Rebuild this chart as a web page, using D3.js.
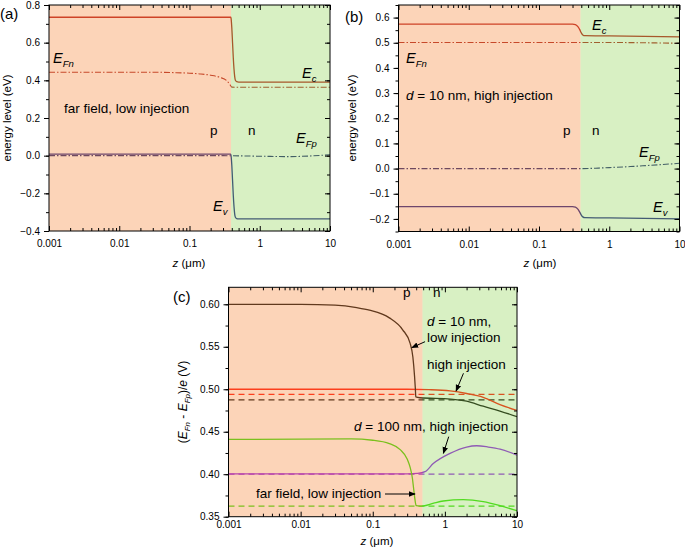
<!DOCTYPE html>
<html><head><meta charset="utf-8">
<script src="https://cdn.jsdelivr.net/npm/d3@7"></script>
<style>body{margin:0;background:#fff}svg{display:block}</style>
</head><body><svg id="chart" width="685" height="550"></svg>
<script>
// ---------------- DATA ----------------
const zTickValues = [0.001, 0.01, 0.1, 1, 10];
const zTickLabels = ["0.001", "0.01", "0.1", "1", "10"];

// panel (a): far field, low injection
const aYTicks = [-0.4, -0.2, 0.0, 0.2, 0.4, 0.6, 0.8];
const aEcZ  = [0.001, 0.1, 0.385, 0.39, 0.40, 0.41, 0.42, 0.43, 0.44, 0.45, 0.47, 0.5, 1, 10];
const aEcV  = [0.735, 0.735, 0.735, 0.73, 0.68, 0.60, 0.52, 0.46, 0.42, 0.40, 0.393, 0.391, 0.391, 0.391];
const aEvZ  = [0.001, 0.1, 0.385, 0.39, 0.40, 0.41, 0.42, 0.43, 0.44, 0.45, 0.47, 0.5, 1, 10];
const aEvV  = [0.008, 0.008, 0.008, 0.0, -0.05, -0.13, -0.21, -0.27, -0.31, -0.327, -0.334, -0.336, -0.336, -0.336];
const aEFnZ = [0.001, 0.03, 0.06, 0.1, 0.14, 0.2, 0.27, 0.34, 0.375, 0.40, 0.45, 10];
const aEFnV = [0.443, 0.443, 0.441, 0.438, 0.434, 0.427, 0.416, 0.398, 0.378, 0.364, 0.363, 0.363];
const aEFpZ = [0.001, 0.3, 1, 2.5, 5, 10];
const aEFpV = [0.0, 0.0, -0.003, -0.005, -0.002, 0.005];

// panel (b): d = 10 nm, high injection
const bYTicks = [-0.2, -0.1, 0.0, 0.1, 0.2, 0.3, 0.4, 0.5, 0.6];
const bEcZ  = [0.001, 0.3, 0.33, 0.36, 0.38, 0.40, 0.42, 0.45, 1, 10];
const bEcV  = [0.574, 0.574, 0.572, 0.563, 0.552, 0.539, 0.531, 0.528, 0.527, 0.523];
const bEvZ  = [0.001, 0.3, 0.33, 0.36, 0.38, 0.40, 0.42, 0.45, 1, 10];
const bEvV  = [-0.151, -0.151, -0.153, -0.162, -0.173, -0.185, -0.192, -0.195, -0.196, -0.200];
const bEFnZ = [0.001, 1, 3, 10];
const bEFnV = [0.501, 0.501, 0.500, 0.498];
const bEFpZ = [0.001, 0.4, 0.7, 1, 2, 3, 5, 10];
const bEFpV = [0.0, 0.0, 0.002, 0.004, 0.008, 0.011, 0.015, 0.021];

// panel (c): (EFn - EFp)/e
const cYTicks = [0.35, 0.40, 0.45, 0.50, 0.55, 0.60];
const cLowD10Z  = [0.001, 0.01, 0.03, 0.06, 0.09, 0.17, 0.26, 0.33, 0.36, 0.38, 0.39, 0.395, 0.45, 1.2, 2, 3.4, 5.8, 10];
const cLowD10V  = [0.600, 0.600, 0.599, 0.596, 0.593, 0.584, 0.570, 0.554, 0.538, 0.515, 0.500, 0.491, 0.490, 0.4885, 0.486, 0.480, 0.4744, 0.4677];
const cHighD10Z = [0.001, 0.3, 0.6, 1.18, 2, 3.4, 5.8, 10];
const cHighD10V = [0.500, 0.500, 0.4995, 0.498, 0.495, 0.4905, 0.482, 0.475];
const cHighD100Z = [0.001, 0.3, 0.42, 0.53, 0.69, 1.18, 2.0, 2.76, 4, 5.83, 10];
const cHighD100V = [0.4005, 0.4005, 0.401, 0.403, 0.4125, 0.4245, 0.432, 0.4335, 0.432, 0.4295, 0.4225];
const cFarZ = [0.001, 0.05, 0.1, 0.17, 0.24, 0.3, 0.33, 0.355, 0.37, 0.385, 0.40, 0.45, 0.5, 0.7, 0.95, 1.8, 3.4, 5.8, 10];
const cFarV = [0.441, 0.4415, 0.440, 0.436, 0.429, 0.418, 0.408, 0.395, 0.382, 0.370, 0.363, 0.3625, 0.3627, 0.366, 0.3685, 0.370, 0.3677, 0.363, 0.357];
const cDashedNames  = ["highD10", "lowD10", "highD100", "far"];
const cDashedLevels = [0.494, 0.4875, 0.400, 0.3625];

// ---------------- DRAWING ----------------
const svg = d3.select("#chart");
const FONT = "Arial, 'Liberation Sans', sans-serif";
const zip = (zs, vs) => zs.map((z, i) => ({z, v: vs[i]}));

const COL = {
  ec: "rgb(185,35,35)", ev: "rgb(40,40,140)", efn: "rgb(175,45,40)", efp: "rgb(40,45,120)",
  red: "rgb(255,30,20)", black: "rgb(20,20,20)", green: "rgb(60,225,20)", purple: "rgb(150,40,235)"
};

function makePanel(cfg) {
  const g = svg.append("g");
  const x = d3.scaleLog().domain([0.001, 10]).range([cfg.x0, cfg.x1]);
  const y = d3.scaleLinear().domain(cfg.yDomain).range([cfg.y1, cfg.y0]);
  const clipId = "clip" + cfg.id;
  svg.append("clipPath").attr("id", clipId).append("rect")
    .attr("x", cfg.x0).attr("y", cfg.y0).attr("width", cfg.x1 - cfg.x0).attr("height", cfg.y1 - cfg.y0);
  const plot = g.append("g").attr("clip-path", `url(#${clipId})`);
  const line = d3.line().x(d => x(d.z)).y(d => y(d.v)).curve(d3.curveMonotoneX);
  return {g, x, y, plot, line, cfg};
}

function drawSeries(P, data, color, dash, w) {
  P.plot.append("path").datum(data).attr("d", P.line)
    .attr("fill", "none").attr("stroke", color).attr("stroke-width", w || 1.3)
    .attr("stroke-dasharray", dash || null);
}

function overlay(P, boundary) {
  const {x, y, plot} = P;
  plot.append("rect").attr("x", x(0.001)).attr("width", x(boundary) - x(0.001))
    .attr("y", P.cfg.y0).attr("height", P.cfg.y1 - P.cfg.y0)
    .attr("fill", "rgb(245,128,48)").attr("fill-opacity", 0.34);
  plot.append("rect").attr("x", x(boundary)).attr("width", x(10) - x(boundary))
    .attr("y", P.cfg.y0).attr("height", P.cfg.y1 - P.cfg.y0)
    .attr("fill", "rgb(128,205,60)").attr("fill-opacity", 0.31);
}

function axes(P) {
  const {g, x, y, cfg} = P;
  const minorX = [];
  [0.001, 0.01, 0.1, 1].forEach(d => { for (let k = 2; k <= 9; k++) minorX.push(d * k); });
  const [ya, yb] = cfg.yDomain;
  const minorY = d3.range(Math.ceil(ya / cfg.yMinor - 1e-6), Math.floor(yb / cfg.yMinor + 1e-6) + 1)
    .map(k => +(k * cfg.yMinor).toFixed(4));
  const style = sel => {
    sel.select(".domain").remove();
    sel.selectAll("line").attr("stroke", "#000").attr("stroke-width", 1);
    sel.selectAll("text").attr("font-family", FONT).attr("font-size", 10).attr("fill", "#000");
  };
  // bottom
  g.append("g").attr("transform", `translate(0,${cfg.y1})`)
    .call(d3.axisBottom(x).tickValues(zTickValues).tickFormat((d, i) => zTickLabels[i])
      .tickSizeInner(-5).tickSizeOuter(0).tickPadding(cfg.xPad)).call(style);
  g.append("g").attr("transform", `translate(0,${cfg.y1})`)
    .call(d3.axisBottom(x).tickValues(minorX).tickFormat("").tickSizeInner(-3).tickSizeOuter(0)).call(style);
  // top
  g.append("g").attr("transform", `translate(0,${cfg.y0})`)
    .call(d3.axisTop(x).tickValues(zTickValues).tickFormat("").tickSizeInner(-5).tickSizeOuter(0)).call(style);
  g.append("g").attr("transform", `translate(0,${cfg.y0})`)
    .call(d3.axisTop(x).tickValues(minorX).tickFormat("").tickSizeInner(-3).tickSizeOuter(0)).call(style);
  // left
  g.append("g").attr("transform", `translate(${cfg.x0},0)`)
    .call(d3.axisLeft(y).tickValues(cfg.yTicks).tickFormat(d3.format(cfg.yFmt))
      .tickSizeInner(5).tickSizeOuter(0).tickPadding(4)).call(style);
  g.append("g").attr("transform", `translate(${cfg.x0},0)`)
    .call(d3.axisLeft(y).tickValues(minorY).tickFormat("").tickSizeInner(3).tickSizeOuter(0)).call(style);
  // right
  g.append("g").attr("transform", `translate(${cfg.x1},0)`)
    .call(d3.axisRight(y).tickValues(cfg.yTicks).tickFormat("").tickSizeInner(-5).tickSizeOuter(0)).call(style);
  g.append("g").attr("transform", `translate(${cfg.x1},0)`)
    .call(d3.axisRight(y).tickValues(minorY).tickFormat("").tickSizeInner(-3).tickSizeOuter(0)).call(style);
  // frame
  g.append("rect").attr("x", cfg.x0).attr("y", cfg.y0).attr("width", cfg.x1 - cfg.x0)
    .attr("height", cfg.y1 - cfg.y0).attr("fill", "none").attr("stroke", "#000").attr("stroke-width", 1);
}

// rich text: parts = [[text, italic, sub]]
function rich(parent, px, py, parts, size, opts) {
  opts = opts || {};
  const t = parent.append("text").attr("x", px).attr("y", py)
    .attr("font-family", FONT).attr("font-size", size).attr("fill", "#000")
    .attr("text-anchor", opts.anchor || "start");
  if (opts.rotate) t.attr("transform", `rotate(-90,${px},${py})`);
  let shifted = false;
  parts.forEach(p => {
    const [txt, it, sub] = p;
    const s = t.append("tspan").text(txt);
    if (it) s.attr("font-style", "italic");
    if (sub) { s.attr("font-size", size * 0.66); if (!shifted) { s.attr("dy", size * 0.25); shifted = true; } }
    else if (shifted) { s.attr("dy", -size * 0.25); shifted = false; }
  });
  return t;
}
function txt(parent, px, py, s, size, anchor) {
  return rich(parent, px, py, [[s, false, false]], size, {anchor});
}

const ANN = 13.5;

// ----- Panel (a)
const A = makePanel({id: "a", x0: 49, x1: 330, y0: 5, y1: 231, yDomain: [-0.4, 0.8],
  yTicks: aYTicks, yMinor: 0.1, yFmt: ".1f", xPad: 9});
drawSeries(A, zip(aEFnZ, aEFnV), COL.efn, "6,2,1.5,2", 1.1);
drawSeries(A, zip(aEFpZ, aEFpV), COL.efp, "6,2,1.5,2", 1.1);
drawSeries(A, zip(aEcZ, aEcV), COL.ec);
drawSeries(A, zip(aEvZ, aEvV), COL.ev);
overlay(A, 0.39);
axes(A);
rich(svg, 0, 19, [["(a)"]], 15);
rich(svg, 53, 63, [["E", true], ["Fn", true, true]], ANN + 1);
rich(svg, 302, 78, [["E", true], ["c", true, true]], ANN + 1);
txt(svg, 64, 113, "far field, low injection", ANN);
txt(svg, 210, 135, "p", ANN); txt(svg, 248, 135, "n", ANN);
rich(svg, 296, 143, [["E", true], ["Fp", true, true]], ANN + 1);
rich(svg, 213, 211, [["E", true], ["v", true, true]], ANN + 1);
rich(svg, 11, 118, [["energy level (eV)"]], 11.5, {anchor: "middle", rotate: true});
rich(svg, 189, 267, [["z", true], [" (μm)"]], 11.5, {anchor: "middle"});

// ----- Panel (b)
const B = makePanel({id: "b", x0: 398.5, x1: 679.5, y0: 5, y1: 231.5, yDomain: [-0.25, 0.65],
  yTicks: bYTicks, yMinor: 0.05, yFmt: ".1f", xPad: 9});
drawSeries(B, zip(bEFnZ, bEFnV), COL.efn, "6,2,1.5,2", 1.1);
drawSeries(B, zip(bEFpZ, bEFpV), COL.efp, "6,2,1.5,2", 1.1);
drawSeries(B, zip(bEcZ, bEcV), COL.ec);
drawSeries(B, zip(bEvZ, bEvV), COL.ev);
overlay(B, 0.39);
axes(B);
rich(svg, 345, 22, [["(b)"]], 15);
rich(svg, 592, 30, [["E", true], ["c", true, true]], ANN + 1);
rich(svg, 406, 63, [["E", true], ["Fn", true, true]], ANN + 1);
rich(svg, 406, 100, [["d", true], [" = 10 nm, high injection"]], ANN);
txt(svg, 563, 135, "p", ANN); txt(svg, 592, 135, "n", ANN);
rich(svg, 639, 157, [["E", true], ["Fp", true, true]], ANN + 1);
rich(svg, 653, 212, [["E", true], ["v", true, true]], ANN + 1);
rich(svg, 356, 118, [["energy level (eV)"]], 11.5, {anchor: "middle", rotate: true});
rich(svg, 540, 267, [["z", true], [" (μm)"]], 11.5, {anchor: "middle"});

// ----- Panel (c)
const C = makePanel({id: "c", x0: 228.5, x1: 517, y0: 287.3, y1: 516.7, yDomain: [0.35, 0.62],
  yTicks: cYTicks, yMinor: 0.025, yFmt: ".2f", xPad: 4});
const dashCol = [COL.red, COL.black, COL.purple, COL.green];
cDashedLevels.forEach((lv, i) => drawSeries(C, zip([0.001, 10], [lv, lv]), dashCol[i], "6,4", 1.2));
drawSeries(C, zip(cHighD10Z, cHighD10V), COL.red);
drawSeries(C, zip(cLowD10Z, cLowD10V), COL.black);
drawSeries(C, zip(cHighD100Z, cHighD100V), COL.purple);
drawSeries(C, zip(cFarZ, cFarV), COL.green);
overlay(C, 0.49);
axes(C);

// arrows (positions in data space)
svg.append("defs").append("marker").attr("id", "ah").attr("viewBox", "0 0 10 10")
  .attr("refX", 9).attr("refY", 5).attr("markerWidth", 7).attr("markerHeight", 7)
  .attr("markerUnits", "userSpaceOnUse").attr("orient", "auto")
  .append("path").attr("d", "M0,1 L10,5 L0,9 Z").attr("fill", "#000");
const arrows = [
  [[0.531, 0.556], [0.348, 0.549]],
  [[1.81, 0.5188], [1.43, 0.4979]],
  [[1.13, 0.4442], [0.953, 0.4246]],
  [[0.148, 0.3767], [0.386, 0.3767]]
];
arrows.forEach(([a, b]) => {
  svg.append("line").attr("x1", C.x(a[0])).attr("y1", C.y(a[1]))
    .attr("x2", C.x(b[0])).attr("y2", C.y(b[1]))
    .attr("stroke", "#000").attr("stroke-width", 1).attr("marker-end", "url(#ah)");
});

rich(svg, 173, 302, [["(c)"]], 15);
txt(svg, 403, 297, "p", ANN); txt(svg, 433, 297, "n", ANN);
rich(svg, 427, 326, [["d", true], [" = 10 nm,"]], ANN);
txt(svg, 427, 342, "low injection", ANN);
txt(svg, 427, 369, "high injection", ANN);
rich(svg, 354, 431, [["d", true], [" = 100 nm, high injection"]], ANN);
txt(svg, 256, 498, "far field, low injection", ANN);
rich(svg, 187, 402, [["("], ["E", true], ["Fn", true, true], [" - "], ["E", true], ["Fp", true, true], [")/"], ["e", true], [" (V)"]],
  12, {anchor: "middle", rotate: true});
rich(svg, 377, 545, [["z", true], [" (μm)"]], 11.5, {anchor: "middle"});
</script></body></html>
